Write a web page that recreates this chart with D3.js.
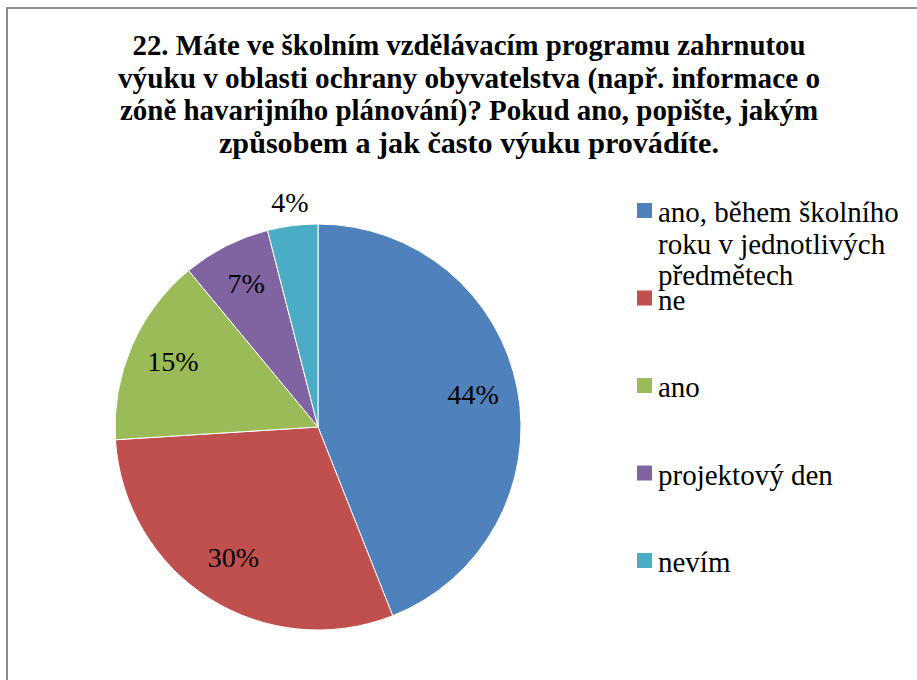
<!DOCTYPE html>
<html>
<head>
<meta charset="utf-8">
<script src="https://d3js.org/d3.v7.min.js"></script>
</head>
<body style="margin:0">
<script>
    // Answers to question 22, share of respondents
    const categories = [
      'ano, během školního roku v jednotlivých předmětech',
      'ne',
      'ano',
      'projektový den',
      'nevím'
    ];
    const shares = [44, 30, 15, 7, 4];
    const sliceColors = ['#4f81bd', '#c0504d', '#9bbb59', '#8064a2', '#4bacc6'];

    // Legend wraps the first answer over three lines, like the original
    const legendLines = [
      ['ano, během školního', 'roku v jednotlivých', 'předmětech'],
      ['ne'],
      ['ano'],
      ['projektový den'],
      ['nevím']
    ];

    const titleLines = [
      '22. Máte ve školním vzdělávacím programu zahrnutou',
      'výuku v oblasti ochrany obyvatelstva (např. informace o',
      'zóně havarijního plánování)? Pokud ano, popište, jakým',
      'způsobem a jak často výuku provádíte.'
    ];
    // the title is set in a narrow bold face; keep each line's width
    const titleWidths = [673, 702, 698, 500];

    const width = 917;
    const height = 680;

    const svg = d3.select('body')
      .append('svg')
      .attr('width', width)
      .attr('height', height);

    // outer frame, cut by the right and bottom edges of the picture
    svg.append('rect')
      .attr('x', 7)
      .attr('y', 8)
      .attr('width', width + 10)
      .attr('height', height + 10)
      .attr('fill', '#ffffff')
      .attr('stroke', '#8c8c8c')
      .attr('stroke-width', 2);

    // title
    svg.selectAll('text.title')
      .data(titleLines)
      .enter()
      .append('text')
      .attr('class', 'title')
      .attr('x', 469)
      .attr('y', (d, i) => 55 + i * 32.5)
      .attr('text-anchor', 'middle')
      .attr('textLength', (d, i) => titleWidths[i])
      .attr('lengthAdjust', 'spacingAndGlyphs')
      .style('font-family', '"Liberation Serif"')
      .style('font-weight', 'bold')
      .style('font-size', '29px')
      .text(d => d);

    // pie
    const cx = 318, cy = 427, radius = 203;

    const pie = d3.pie()
      .sort(null)
      .value(d => d.value);

    const rows = categories.map((c, i) => ({ name: c, value: shares[i], color: sliceColors[i] }));
    const arcs = pie(rows);

    const arc = d3.arc()
      .innerRadius(0)
      .outerRadius(radius);

    const labelArc = d3.arc()
      .innerRadius(158)
      .outerRadius(158);

    const outsideArc = d3.arc()
      .innerRadius(224)
      .outerRadius(224);

    const g = svg.append('g')
      .attr('transform', `translate(${cx},${cy})`);

    g.selectAll('path')
      .data(arcs)
      .enter()
      .append('path')
      .attr('d', arc)
      .attr('fill', d => d.data.color)
      .attr('stroke', '#ffffff')
      .attr('stroke-width', 1);

    // small slices get their label outside the pie
    g.selectAll('text')
      .data(arcs)
      .enter()
      .append('text')
      .attr('transform', d => {
        const p = d.data.value < 5 ? outsideArc.centroid(d) : labelArc.centroid(d);
        return `translate(${p[0]},${p[1]})`;
      })
      .attr('text-anchor', 'middle')
      .attr('dy', '0.25em')
      .style('font-family', '"Liberation Serif"')
      .style('font-size', '28px')
      .text(d => d.data.value + '%');

    // legend
    const legendY = d3.scaleLinear()
      .domain([0, categories.length - 1])
      .range([210, 560]);

    const item = svg.append('g')
      .selectAll('g')
      .data(rows)
      .enter()
      .append('g')
      .attr('transform', (d, i) => `translate(637,${legendY(i)})`);

    item.append('rect')
      .attr('x', 0)
      .attr('y', -7)
      .attr('width', 15)
      .attr('height', 15)
      .attr('fill', d => d.color);

    item.append('text')
      .attr('x', 21)
      .attr('y', 12)
      .style('font-family', '"Liberation Serif"')
      .style('font-size', '29px')
      .selectAll('tspan')
      .data((d, i) => legendLines[i])
      .enter()
      .append('tspan')
      .attr('x', 21)
      .attr('dy', (d, j) => j === 0 ? 0 : 31.5)
      .text(d => d);
</script>
</body>
</html>
